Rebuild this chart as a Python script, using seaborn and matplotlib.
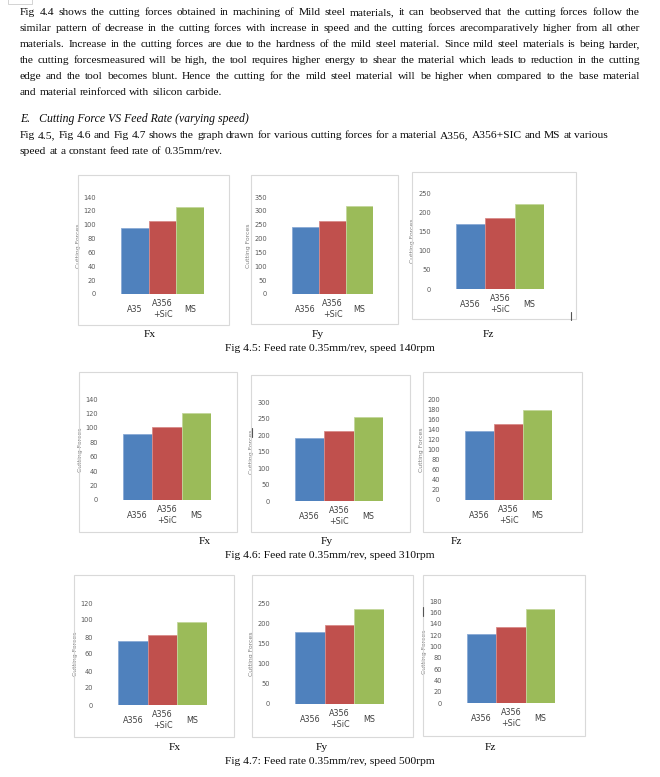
import matplotlib
matplotlib.use('Agg')
import matplotlib.pyplot as plt
from matplotlib.font_manager import FontProperties
from matplotlib.patches import Rectangle
from matplotlib.lines import Line2D
import seaborn as sns
import numpy as np

W, H = 660, 777

# ---- data ----
materials = ["A356", "A356\n+SiC", "MS"]
materials_first = ["A35", "A356\n+SiC", "MS"]
bar_colors = ["#4F81BD", "#C0504D", "#9BBB59"]
edge_colors = ["#8AAAD5", "#D98B89", "#C3D79B"]

fx_140 = [95, 105, 126]
fy_140 = [240, 264, 319]
fz_140 = [169, 185, 222]
fx_310 = [92, 101, 121]
fy_310 = [192, 212, 254]
fz_310 = [136, 150, 179]
fx_500 = [75, 82, 98]
fy_500 = [177, 195, 234]
fz_500 = [122, 135, 166]

force_names = ["Fx", "Fy", "Fz"]
captions = ["Fig 4.5: Feed rate 0.35mm/rev, speed 140rpm",
            "Fig 4.6: Feed rate 0.35mm/rev, speed 310rpm",
            "Fig 4.7: Feed rate 0.35mm/rev, speed 500rpm"]

paragraph = [
    "Fig 4.4 shows the cutting forces obtained in machining of Mild steel materials, it can beobserved that the cutting forces follow the",
    "similar pattern of decrease in the cutting forces with increase in speed and the cutting forces arecomparatively higher from all other",
    "materials. Increase in the cutting forces are due to the hardness of the mild steel material. Since mild steel materials is being harder,",
    "the cutting forcesmeasured will be high, the tool requires higher energy to shear the material which leads to reduction in the cutting",
    "edge and the tool becomes blunt. Hence the cutting for the mild steel material will be higher when compared to the base material",
    "and material reinforced with silicon carbide.",
]
heading = "E.   Cutting Force VS Feed Rate (varying speed)"
intro = [
    "Fig 4.5, Fig 4.6 and Fig 4.7 shows the graph drawn for various cutting forces for a material A356, A356+SIC and MS at various",
    "speed at a constant feed rate of 0.35mm/rev.",
]

# (values, ymax, step, box px, axes px)  px boxes: left, right, top, bottom
charts = [
    (fx_140, 140, 20, (78, 229, 175, 325), (121, 204, 197, 294)),
    (fy_140, 350, 50, (251, 398, 175, 324), (292, 373, 197, 294)),
    (fz_140, 250, 50, (412, 576, 172, 319), (456, 544, 193, 289)),
    (fx_310, 140, 20, (79, 237, 372, 532), (123, 211, 399, 500)),
    (fy_310, 300, 50, (251, 410, 375, 532), (295, 383, 402, 501)),
    (fz_310, 200, 20, (423, 582, 372, 532), (465, 552, 399, 500)),
    (fx_500, 120, 20, (74, 234, 575, 737), (118, 207, 603, 705)),
    (fy_500, 250, 50, (252, 413, 575, 737), (295, 384, 603, 704)),
    (fz_500, 180, 20, (423, 585, 575, 736), (467, 555, 601, 703)),
]
label_pos = [[(150, 337), (318, 337), (488, 337)],
             [(205, 544), (327, 544), (456, 544)],
             [(175, 750), (322, 750), (490, 750)]]
caption_pos = [(330, 351), (330, 558), (330, 764)]

sns.set_style("white")
plt.rcParams['font.family'] = ['DejaVu Sans']

fig = plt.figure(figsize=(W / 100, H / 100), dpi=100)
fig.patch.set_facecolor("white")
renderer = fig.canvas.get_renderer()


def fx(x):
    return x / W


def fy(y):
    return 1 - y / H


serif = FontProperties(family=["Liberation Serif", "DejaVu Serif"], size=8.25)
serif_it = FontProperties(family=["Liberation Serif", "DejaVu Serif"], size=8.5, style="italic")


def text_width(s, fp):
    return renderer.get_text_width_height_descent(s, fp, ismath=False)[0]


def put_line(line, y, justify, left=20, right=640):
    words = line.split(" ")
    widths = [text_width(w, serif) for w in words]
    if justify and len(words) > 1:
        gap = (right - left - sum(widths)) / (len(words) - 1)
    else:
        gap = text_width("a a", serif) - 2 * text_width("a", serif)
    x = left
    for w, wd in zip(words, widths):
        fig.text(fx(x), fy(y), w, fontproperties=serif, va="baseline", ha="left", color="#0A0A0A")
        x += wd + gap


for i, line in enumerate(paragraph):
    put_line(line, 15 + 16 * i, justify=(i < len(paragraph) - 1))
fig.text(fx(20), fy(122), heading, fontproperties=serif_it, va="baseline", color="#0A0A0A")
for i, line in enumerate(intro):
    put_line(line, 138 + 16 * i, justify=False)

narrow = ["Liberation Sans Narrow", "DejaVu Sans"]

for k, (vals, ymax, step, box, axp) in enumerate(charts):
    bl, br, bt, bb = box
    fig.patches.append(Rectangle((fx(bl), fy(bb)), (br - bl) / W, (bb - bt) / H,
                                 transform=fig.transFigure, fill=False,
                                 edgecolor="#D9D9D9", linewidth=0.8))
    al, ar, at, ab = axp
    ax = fig.add_axes([fx(al), fy(ab), (ar - al) / W, (ab - at) / H])
    cats = materials_first if k == 0 else materials
    sns.barplot(x=cats, y=vals, hue=cats, palette=bar_colors, width=1.0,
                saturation=1, legend=False, ax=ax)
    for p, ec in zip(ax.patches, edge_colors):
        p.set_edgecolor(ec)
        p.set_linewidth(0.6)
    ax.set_xlim(-0.5, 2.5)
    ax.set_ylim(0, ymax)
    ax.set_yticks(np.arange(0, ymax + 1, step))
    ax.set_facecolor("none")
    for s in ax.spines.values():
        s.set_visible(False)
    ax.tick_params(axis="y", length=0, pad=18, labelsize=4.8, labelcolor="#595959")
    ax.tick_params(axis="x", length=0, pad=11, labelsize=5.8, labelcolor="#404040")
    for t in ax.get_yticklabels():
        t.set_family(narrow)
    for t in ax.get_xticklabels():
        t.set_family(narrow)
        t.set_verticalalignment("center")
        t.set_linespacing(1.3)
    ax.set_ylabel("Cutting Forces", fontsize=4.4, color="#7F7F7F", labelpad=2)
    ax.set_xlabel("")

for r in range(3):
    for c in range(3):
        x, y = label_pos[r][c]
        fig.text(fx(x), fy(y), force_names[c], fontproperties=serif, ha="center", va="baseline",
                 color="#0A0A0A")
    x, y = caption_pos[r]
    fig.text(fx(x), fy(y), captions[r], fontproperties=serif, ha="center", va="baseline",
             color="#0A0A0A")

# small scan marks on the page
for (x0, y0, x1, y1) in [(571, 312, 571, 320), (252, 428, 252, 437), (423, 607, 423, 616)]:
    fig.lines.append(Line2D([fx(x0), fx(x1)], [fy(y0), fy(y1)], transform=fig.transFigure,
                            color="#555555", linewidth=0.8))
fig.patches.append(Rectangle((fx(8), fy(4)), 24 / W, 5 / H, transform=fig.transFigure,
                             fill=False, edgecolor="#CCCCCC", linewidth=0.6))

fig.savefig("out.png", dpi=100, facecolor="white")
